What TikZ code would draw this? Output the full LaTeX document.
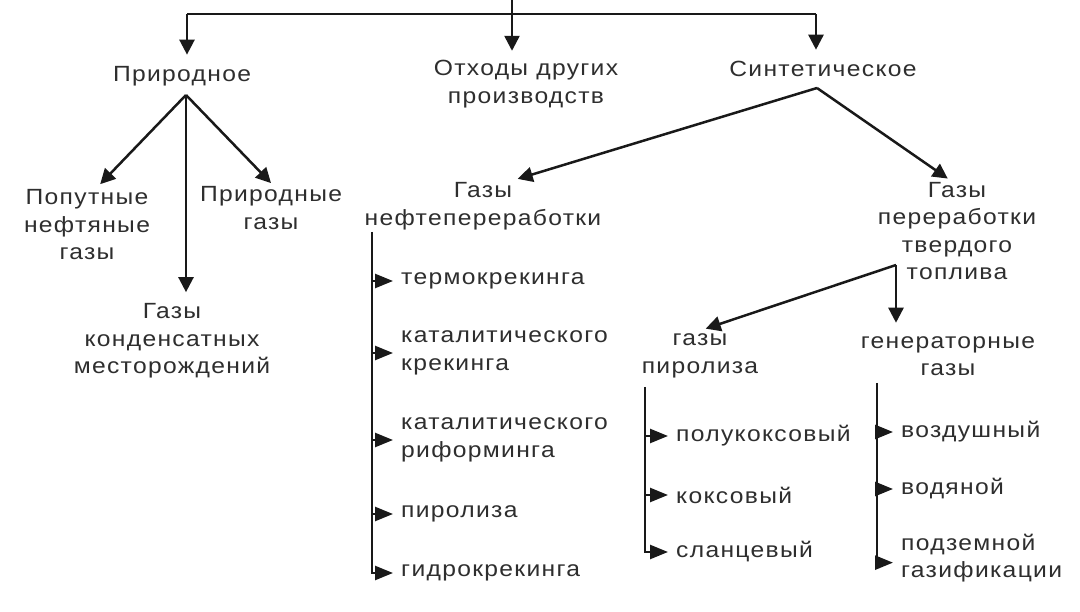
\documentclass[tikz,border=0pt]{standalone}
\usepackage{fontspec}
\setmainfont{Liberation Sans}[FakeStretch=1.12,LetterSpace=6]
\usetikzlibrary{arrows.meta}
\begin{document}
\begin{tikzpicture}[x=1pt,y=-1pt,
  txt/.style={font=\fontsize{22}{27.5}\selectfont,text=black!82,align=center,inner sep=3.3pt},
  leaf/.style={txt,align=left,anchor=west,inner xsep=8pt},
  ln/.style={line width=2.5pt,draw=black!90},
  arr/.style={ln,-{Triangle[length=15pt,width=15pt]}},
  br/.style={ln,-{Triangle[length=18pt,width=14pt]}}]
\fill[white] (0,0) rectangle (1080,612);
\useasboundingbox (0,0) rectangle (1080,612);

% level 1
\node[txt] (prir) at (182,76) {Природное};
\node[txt] (otx) at (526,84) {Отходы других\\производств};
\node[txt] (sint) at (823,69) {Синтетическое};

% natural
\node[txt] (popu) at (87,225) {Попутные\\нефтяные\\газы};
\node[txt] (prga) at (271,208) {Природные\\газы};
\node[txt] (kond) at (172,341) {Газы\\конденсатных\\месторождений};

% synthetic
\node[txt] (neft) at (483,206) {Газы\\нефтепереработки};
\node[txt] (tver) at (957,231) {Газы\\переработки\\твердого\\топлива};
\node[txt] (piro) at (700,356) {газы\\пиролиза};
\node[txt] (gene) at (948,356) {генераторные\\газы};

% leaves of refinery gases
\node[leaf] (termo) at (393,281) {термокрекинга};
\node[leaf] (katk) at (393,353) {каталитического\\крекинга};
\node[leaf] (katr) at (393,440) {каталитического\\риформинга};
\node[leaf] (pirl) at (393,514) {пиролиза};
\node[leaf] (gidr) at (393,573) {гидрокрекинга};

% leaves of pyrolysis gases
\node[leaf] (polu) at (668,436) {полукоксовый};
\node[leaf] (koks) at (668,495) {коксовый};
\node[leaf] (slan) at (668,552) {сланцевый};

% leaves of generator gases
\node[leaf] (vozd) at (893,432) {воздушный};
\node[leaf] (vodn) at (893,489) {водяной};
\node[leaf] (podz) at (893,558) {подземной\\газификации};

% junctions
\coordinate (root) at (512,0);
\coordinate (jL) at (187,14);
\coordinate (jR) at (816,14);
\coordinate (prirF) at (186,95);
\coordinate (sintF) at (817,88);
\coordinate (tverF) at (896,265);
\coordinate (nv) at (372,232);
\coordinate (pv) at (645,387);
\coordinate (gv) at (877,383);

% top distribution
\draw[ln] (jL) -- (jR);
\draw[arr,shorten >=6pt] (root) -- (root |- otx.north);
\draw[arr,shorten >=8pt] (jL) -- (jL |- prir.north);
\draw[arr,shorten >=8pt] (jR) -- (jR |- sint.north);

% natural fan
\draw[arr,shorten >=3pt] (prirF) -- (popu.74);
\draw[arr] (prirF) -- (prga.north);
\draw[arr,shorten >=8pt] (prirF) -- (prirF |- kond.north);

% synthetic fan
\draw[arr] (sintF) -- (neft.38);
\draw[arr] (sintF) -- (tver.100);

% solid fuel fan
\draw[arr,shorten >=6pt] (tverF) -- (piro.90);
\draw[arr,shorten >=10pt] (tverF) -- (tverF |- gene.north);

% branch lists
\draw[br] (nv) |- (gidr.west);
\draw[br] (nv |- termo.west) -- (termo.west);
\draw[br] (nv |- katk.west) -- (katk.west);
\draw[br] (nv |- katr.west) -- (katr.west);
\draw[br] (nv |- pirl.west) -- (pirl.west);

\draw[br] (pv) |- (slan.west);
\draw[br] (pv |- polu.west) -- (polu.west);
\draw[br] (pv |- koks.west) -- (koks.west);

\draw[br] (gv) |- (podz.183);
\draw[br] (gv |- vozd.west) -- (vozd.west);
\draw[br] (gv |- vodn.west) -- (vodn.west);
\end{tikzpicture}
\end{document}
